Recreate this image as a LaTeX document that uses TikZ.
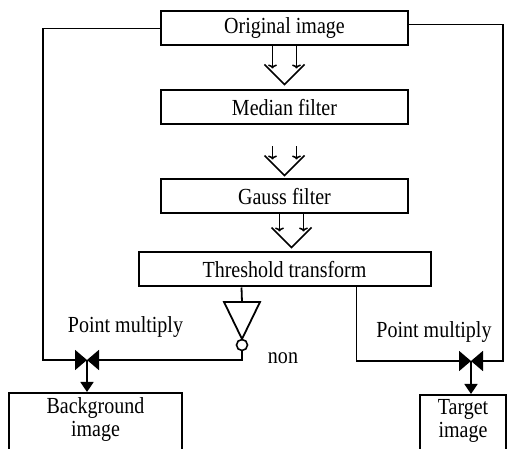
\documentclass[tikz,border=0pt]{standalone}
\usepackage{fontspec}
\setmainfont{Liberation Serif}[FakeStretch=0.87]
\usetikzlibrary{arrows.meta,positioning}

\begin{document}
\begin{tikzpicture}[x=1pt, y=-1pt,
    font=\fontsize{23}{23}\selectfont,
    stage/.style = {draw, line width=2pt, minimum height=34pt, inner sep=0pt},
    outbox/.style = {draw, line width=2pt, minimum height=70pt, anchor=north},
    wire/.style = {line width=1.8pt},
    mult/.style = {wire, -{Triangle[length=12pt,width=20pt]}},
    down/.style = {wire, -{Triangle[length=10pt,width=13pt]}},
    hollow/.pic = {
        \draw[line width=1.5pt, -{To[length=4pt,width=9pt]}] (-12,0) -- (-12,#1-16);
        \draw[line width=1.5pt, -{To[length=4pt,width=9pt]}] (12,0) -- (12,#1-16);
        \draw[line width=1.5pt] (-20,#1-20) -- (0,#1) -- (20,#1-20);
    }]
\useasboundingbox (0,0) rectangle (512,449);

% processing chain
\node[stage, minimum width=247pt] (orig) at (284.5,28.5) {Original image};
\node[stage, minimum width=247pt, below=43pt of orig] (median) {Median filter};
\node[stage, minimum width=247pt, below=53pt of median] (gauss) {Gauss filter};
\node[stage, minimum width=292pt, below=37pt of gauss] (thresh) {Threshold transform};

\pic at (orig.south) {hollow=38};
\pic at ([yshift=-21pt]median.south) {hollow=29};
\pic at ([xshift=7pt]gauss.south) {hollow=33};

% outputs
\node[outbox, minimum width=173pt] (bg) at (95.5,392) {};
\node[align=center, below=2pt of bg.north] (bgtext) {Background\\image};
\node[outbox, minimum width=86pt] (target) at (463,394) {};
\node[align=center, below=2pt of target.north] (targettext) {Target\\image};

\coordinate (lmul) at (87,360);
\coordinate (rmul) at (471,361);
\coordinate (lcorner) at (43,360);
\coordinate (rcorner) at (503,361);
\coordinate (invtop) at (242,302);

% inverter
\draw[wire] ([xshift=-43pt]thresh.south) -- (invtop);
\draw[wire] (224,302) -- (260,302) -- (242,339) -- cycle;
\node[draw, circle, minimum size=11pt, inner sep=0pt, line width=1.6pt] (inv) at (242,345) {};

% point multiply
\draw[mult] (orig.west) -| (lcorner) -- (lmul);
\draw[mult] (inv.south) |- (lmul);
\draw[mult] ([yshift=4pt]orig.east) -| (rcorner) -- (rmul);
\draw[mult] ([xshift=72pt]thresh.south) |- (rmul);
\draw[down] (lmul) -- (lmul |- bg.north);
\draw[down] (rmul) -- (rmul |- target.north);

\node (lpm) at (125.5,327) {Point multiply};
\node (rpm) at (434,332) {Point multiply};
\node (nonlbl) at (283,358) {non};
\end{tikzpicture}
\end{document}
